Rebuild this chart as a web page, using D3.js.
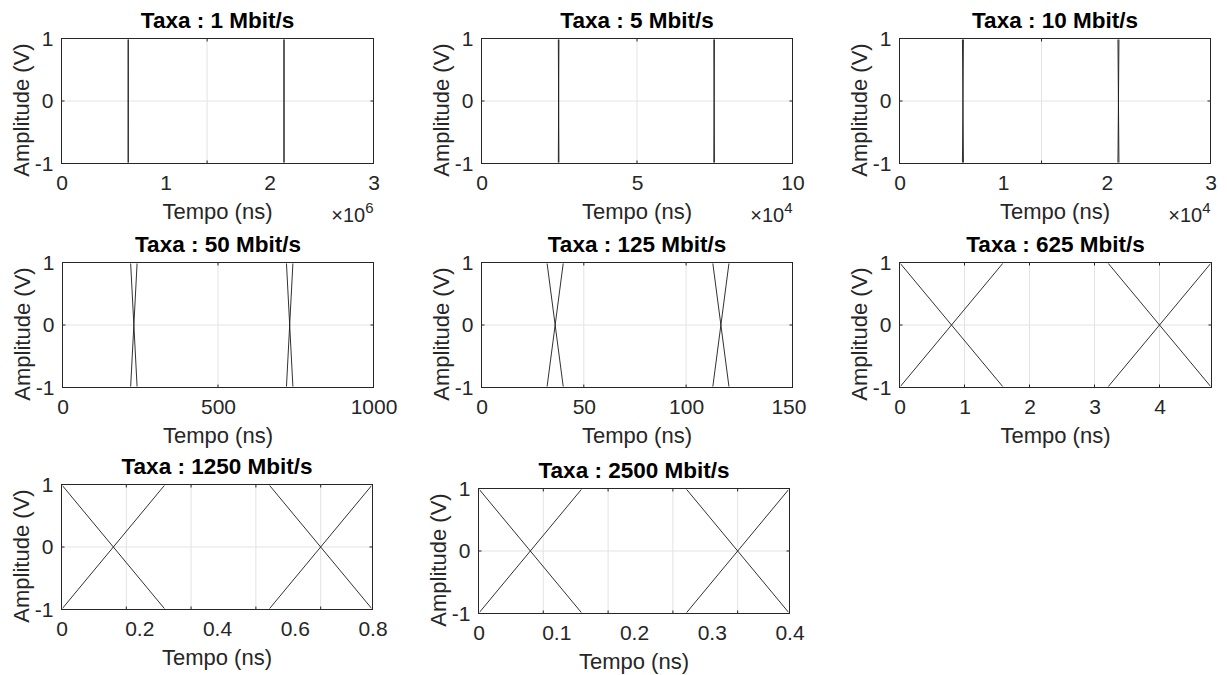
<!DOCTYPE html>
<html>
<head>
<meta charset="utf-8">
<script src="https://cdn.jsdelivr.net/npm/d3@7"></script>
<style>
  body { margin: 0; background: #fff; }
  svg { font-family: "Liberation Sans", Arial, Helvetica, sans-serif; }
  .grid line { stroke: #e3e3e3; }
  .grid path { display: none; }
  .lbl path { display: none; }
  .lbl text { fill: #262626; font-size: 21px; }
  .marks line { stroke: #262626; }
  .marks path { display: none; }
</style>
</head>
<body>
<svg width="1227" height="675"></svg>
<script>
// one entry per subplot
const titles = ["Taxa : 1 Mbit/s", "Taxa : 5 Mbit/s", "Taxa : 10 Mbit/s", "Taxa : 50 Mbit/s",
  "Taxa : 125 Mbit/s", "Taxa : 625 Mbit/s", "Taxa : 1250 Mbit/s", "Taxa : 2500 Mbit/s"];
const xMaxes = [3e6, 1e5, 3e4, 1000, 152, 4.8, 0.8, 0.4];
const xTickValues = [
  [0, 1e6, 2e6, 3e6], [0, 5e4, 1e5], [0, 1e4, 2e4, 3e4], [0, 500, 1000],
  [0, 50, 100, 150], [0, 1, 2, 3, 4], [0, 0.2, 0.4, 0.6, 0.8], [0, 0.1, 0.2, 0.3, 0.4]
];
// gridlines / tick marks (not always where the labels are)
const gridValues = [
  [1.4e6], [5e4], [1.37e4], [500], [50, 100], [1, 2, 3, 4],
  [0.1667, 0.3333, 0.5, 0.6667], [0.0833, 0.1667, 0.25, 0.3333]
];
const exponents = [6, 4, 4, null, null, null, null, null];
const yTicks = [-1, 0, 1];

// eye traces: one starting high, one starting low
const traceHigh = [
  [[0, 1], [641000, 1], [642000, -1], [2139000, -1], [2140000, 1], [3e6, 1]],
  [[0, 1], [24700, 1], [24900, -1], [74700, -1], [74900, 1], [1e5, 1]],
  [[0, 1], [6070, 1], [6170, -1], [21070, -1], [21170, 1], [3e4, 1]],
  [[0, 1], [219, 1], [240, -1], [720, -1], [741, 1], [1000, 1]],
  [[0, 1], [32, 1], [40, -1], [113, -1], [121, 1], [152, 1]],
  [[0, 1], [1.6, -1], [3.2, -1], [4.8, 1]],
  [[0, 1], [0.2667, -1], [0.5333, -1], [0.8, 1]],
  [[0, 1], [0.1333, -1], [0.2667, -1], [0.4, 1]]
];
const traceLow = [
  [[0, -1], [641000, -1], [642000, 1], [2139000, 1], [2140000, -1], [3e6, -1]],
  [[0, -1], [24700, -1], [24900, 1], [74700, 1], [74900, -1], [1e5, -1]],
  [[0, -1], [6070, -1], [6170, 1], [21070, 1], [21170, -1], [3e4, -1]],
  [[0, -1], [219, -1], [240, 1], [720, 1], [741, -1], [1000, -1]],
  [[0, -1], [32, -1], [40, 1], [113, 1], [121, -1], [152, -1]],
  [[0, -1], [1.6, 1], [3.2, 1], [4.8, -1]],
  [[0, -1], [0.2667, 1], [0.5333, 1], [0.8, -1]],
  [[0, -1], [0.1333, 1], [0.2667, 1], [0.4, -1]]
];

// subplot boxes in pixels (left, top, right, bottom)
const layout = [
  { l: 61, t: 38, r: 373, b: 163 },
  { l: 481, t: 38, r: 792, b: 163 },
  { l: 899, t: 38, r: 1210, b: 163 },
  { l: 62, t: 262, r: 373, b: 387 },
  { l: 481, t: 262, r: 792, b: 387 },
  { l: 899, t: 262, r: 1211, b: 387 },
  { l: 61, t: 484, r: 372, b: 609 },
  { l: 478, t: 488, r: 789, b: 613 }
];

let svg = d3.select("svg");
let defs = svg.append("defs");

layout.forEach((p, i) => {
  let w = p.r - p.l;
  let h = p.b - p.t;
  // half-pixel offset so 1px lines sit on whole pixels
  let g = svg.append("g").attr("transform", `translate(${p.l + 0.5},${p.t + 0.5})`);

  let x = d3.scaleLinear().domain([0, xMaxes[i]]).range([0, w]);
  let y = d3.scaleLinear().domain([-1, 1]).range([h, 0]);

  // keep the flat parts of the traces under the box line
  defs.append("clipPath").attr("id", `clip-${i}`)
    .append("rect")
    .attr("x", 1).attr("y", 1)
    .attr("width", w - 2).attr("height", h - 2);

  // grid
  g.append("g")
    .attr("class", "grid")
    .attr("transform", `translate(0,${h})`)
    .call(d3.axisBottom(x).tickValues(gridValues[i]).tickSize(-h).tickFormat("").offset(0));
  g.append("g")
    .attr("class", "grid")
    .call(d3.axisLeft(y).tickValues([0]).tickSize(-w).tickFormat("").offset(0));

  // eye traces
  let line = d3.line().x(d => x(d[0])).y(d => y(d[1]));
  let traces = g.append("g").attr("clip-path", `url(#clip-${i})`);
  [traceHigh[i], traceLow[i]].forEach(tr => {
    traces.append("path")
      .attr("d", line(tr))
      .attr("fill", "none")
      .attr("stroke", "#1a1a1a")
      .attr("stroke-width", 0.9);
  });

  // inward tick marks on all four sides
  g.append("g").attr("class", "marks").attr("transform", `translate(0,${h})`)
    .call(d3.axisBottom(x).tickValues(gridValues[i]).tickSize(-3).tickFormat("").offset(0));
  g.append("g").attr("class", "marks")
    .call(d3.axisTop(x).tickValues(gridValues[i]).tickSize(-3).tickFormat("").offset(0));
  g.append("g").attr("class", "marks")
    .call(d3.axisLeft(y).tickValues(yTicks).tickSize(-3).tickFormat("").offset(0));
  g.append("g").attr("class", "marks").attr("transform", `translate(${w},0)`)
    .call(d3.axisRight(y).tickValues(yTicks).tickSize(-3).tickFormat("").offset(0));

  // box
  g.append("rect")
    .attr("x", 0).attr("y", 0)
    .attr("width", w).attr("height", h)
    .attr("fill", "none")
    .attr("stroke", "#262626")
    .attr("stroke-width", 1);

  // tick labels
  let scaleDiv = exponents[i] ? Math.pow(10, exponents[i]) : 1;
  g.append("g")
    .attr("class", "lbl")
    .attr("transform", `translate(0,${h})`)
    .call(d3.axisBottom(x).tickValues(xTickValues[i]).tickSize(0).tickPadding(12)
      .tickFormat(d => String(+(d / scaleDiv).toFixed(4))));
  g.append("g")
    .attr("class", "lbl")
    .call(d3.axisLeft(y).tickValues(yTicks).tickSize(0).tickPadding(8)
      .tickFormat(d => String(d)));

  // exponent
  if (exponents[i]) {
    let ex = g.append("text")
      .attr("x", w)
      .attr("y", h + 58)
      .attr("text-anchor", "end")
      .style("font-size", "20px")
      .style("fill", "#262626");
    ex.append("tspan").text("\u00d710");
    ex.append("tspan").attr("dy", "-0.55em").style("font-size", "15px").text(exponents[i]);
  }

  // title
  g.append("text")
    .attr("x", w / 2)
    .attr("y", -11)
    .attr("text-anchor", "middle")
    .style("font-size", "22.5px")
    .style("font-weight", "bold")
    .style("fill", "#000")
    .text(titles[i]);

  // axis labels
  g.append("text")
    .attr("x", w / 2)
    .attr("y", h + 55)
    .attr("text-anchor", "middle")
    .style("font-size", "22px")
    .style("fill", "#262626")
    .text("Tempo (ns)");
  g.append("text")
    .attr("transform", `translate(-33,${h / 2 + 9}) rotate(-90)`)
    .attr("text-anchor", "middle")
    .style("font-size", "22px")
    .style("fill", "#262626")
    .text("Amplitude (V)");
});
</script>
</body>
</html>
